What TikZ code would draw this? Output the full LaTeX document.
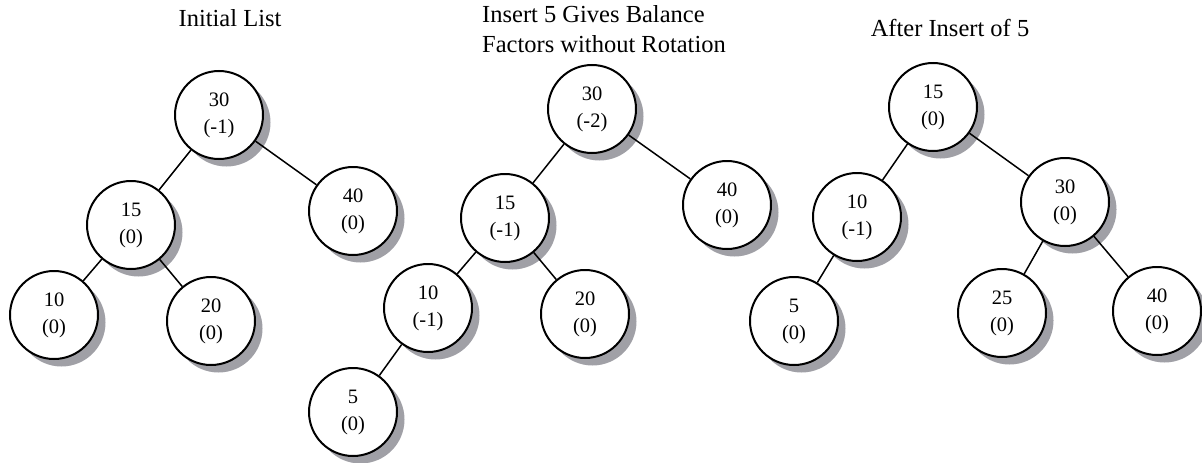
\documentclass[tikz,border=0pt]{standalone}
\usepackage{fontspec}
\setmainfont{Liberation Serif}
\usetikzlibrary{shadows}
\definecolor{shadowgray}{RGB}{160,160,166}
\tikzset{
  avl/.style={circle, draw=black, line width=2pt, fill=white,
    minimum size=88pt, inner sep=0pt, align=center,
    font=\fontsize{20.5}{27}\selectfont,
    drop shadow={shadow xshift=7.5pt, shadow yshift=-7.5pt,
      fill=shadowgray, opacity=1}},
  link/.style={line width=1.5pt, black},
  heading/.style={font=\fontsize{24.5}{29}\selectfont, inner sep=0pt}
}
\begin{document}
\begin{tikzpicture}[x=1pt, y=-1pt]
\useasboundingbox (0,0) rectangle (1202,463);

% headings
\node[heading, anchor=base] (h1) at (230,27) {Initial List};
\node[heading, anchor=base west] (h2a) at (482,23) {Insert 5 Gives Balance};
\node[heading, anchor=base west] (h2b) at (482,52) {Factors without Rotation};
\node[heading, anchor=base] (h3) at (950,36) {After Insert of 5};

% initial tree
\node[avl] (a30) at (219,115) {30\\(-1)};
\node[avl] (a40) at (353,211) {40\\(0)};
\node[avl] (a15) at (131,225) {15\\(0)};
\node[avl] (a10) at (54,315) {10\\(0)};
\node[avl] (a20) at (211,321) {20\\(0)};
\draw[link] (a30) -- (a15);
\draw[link] (a30) -- (a40);
\draw[link] (a15) -- (a10);
\draw[link] (a15) -- (a20);

% tree after inserting 5, before rotation
\node[avl] (b30) at (592,109) {30\\(-2)};
\node[avl] (b40) at (727,205) {40\\(0)};
\node[avl] (b15) at (505,218) {15\\(-1)};
\node[avl] (b10) at (428,308) {10\\(-1)};
\node[avl] (b20) at (585,314) {20\\(0)};
\node[avl] (b5) at (353,412) {5\\(0)};
\draw[link] (b30) -- (b15);
\draw[link] (b30) -- (b40);
\draw[link] (b15) -- (b10);
\draw[link] (b15) -- (b20);
\draw[link] (b10) -- (b5);

% rebalanced tree
\node[avl] (c15) at (933,107) {15\\(0)};
\node[avl] (c10) at (857,217) {10\\(-1)};
\node[avl] (c30) at (1065,202) {30\\(0)};
\node[avl] (c5) at (794,321) {5\\(0)};
\node[avl] (c25) at (1002,313) {25\\(0)};
\node[avl] (c40) at (1157,311) {40\\(0)};
\draw[link] (c15) -- (c10);
\draw[link] (c15) -- (c30);
\draw[link] (c10) -- (c5);
\draw[link] (c30) -- (c25);
\draw[link] (c30) -- (c40);
\end{tikzpicture}
\end{document}
